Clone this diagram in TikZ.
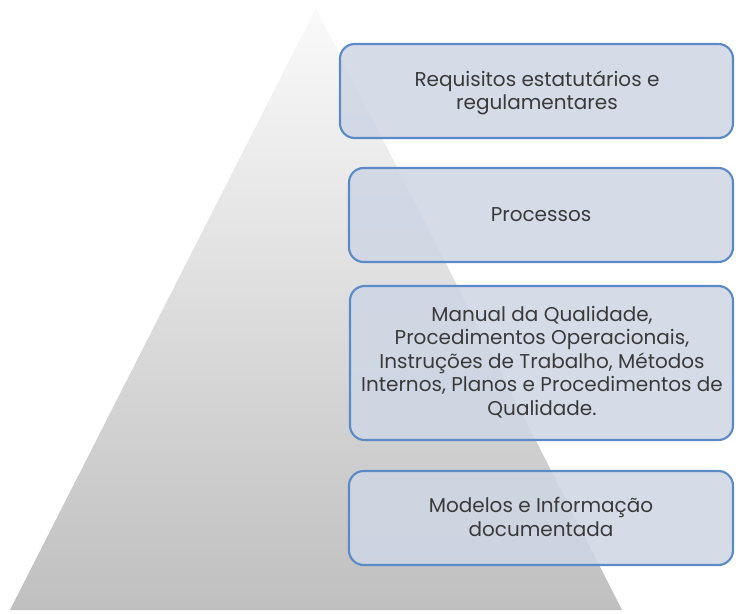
\documentclass[tikz,border=0pt]{standalone}
\usepackage{fontspec}
\setmainfont{Poppins}
\begin{document}
\begin{tikzpicture}[x=0.75pt,y=-0.75pt,
  lvlbox/.style={draw=boxline, line width=1.6pt, fill=boxfill, fill opacity=0.88,
    rounded corners=11pt},
  lvltext/.style={text=txt, font=\fontsize{15}{17.6}\selectfont, align=center, inner sep=0pt}]
\definecolor{boxline}{HTML}{5B8BC7}
\definecolor{boxfill}{HTML}{CFD7E5}
\definecolor{txt}{HTML}{3A3A3A}
\useasboundingbox (0,0) rectangle (736,614);
\shade[top color=white!96!gray, bottom color=black!25] (316,8) -- (622,610) -- (10,610) -- cycle;
\draw[lvlbox] (340,44) rectangle (733,138);
\node[lvltext] (n1) at (537,93) {Requisitos estatutários e\\regulamentares};
\draw[lvlbox] (349,168) rectangle (733,262);
\node[lvltext] (n2) at (541,215) {Processos};
\draw[lvlbox] (350,286) rectangle (733,440);
\node[lvltext] (n3) at (542,362) {Manual da Qualidade,\\Procedimentos Operacionais,\\Instruções de Trabalho, Métodos\\Internos, Planos e Procedimentos de\\Qualidade.};
\draw[lvlbox] (349,471) rectangle (733,565);
\node[lvltext] (n4) at (541,517) {Modelos e Informação\\documentada};
\end{tikzpicture}
\end{document}
